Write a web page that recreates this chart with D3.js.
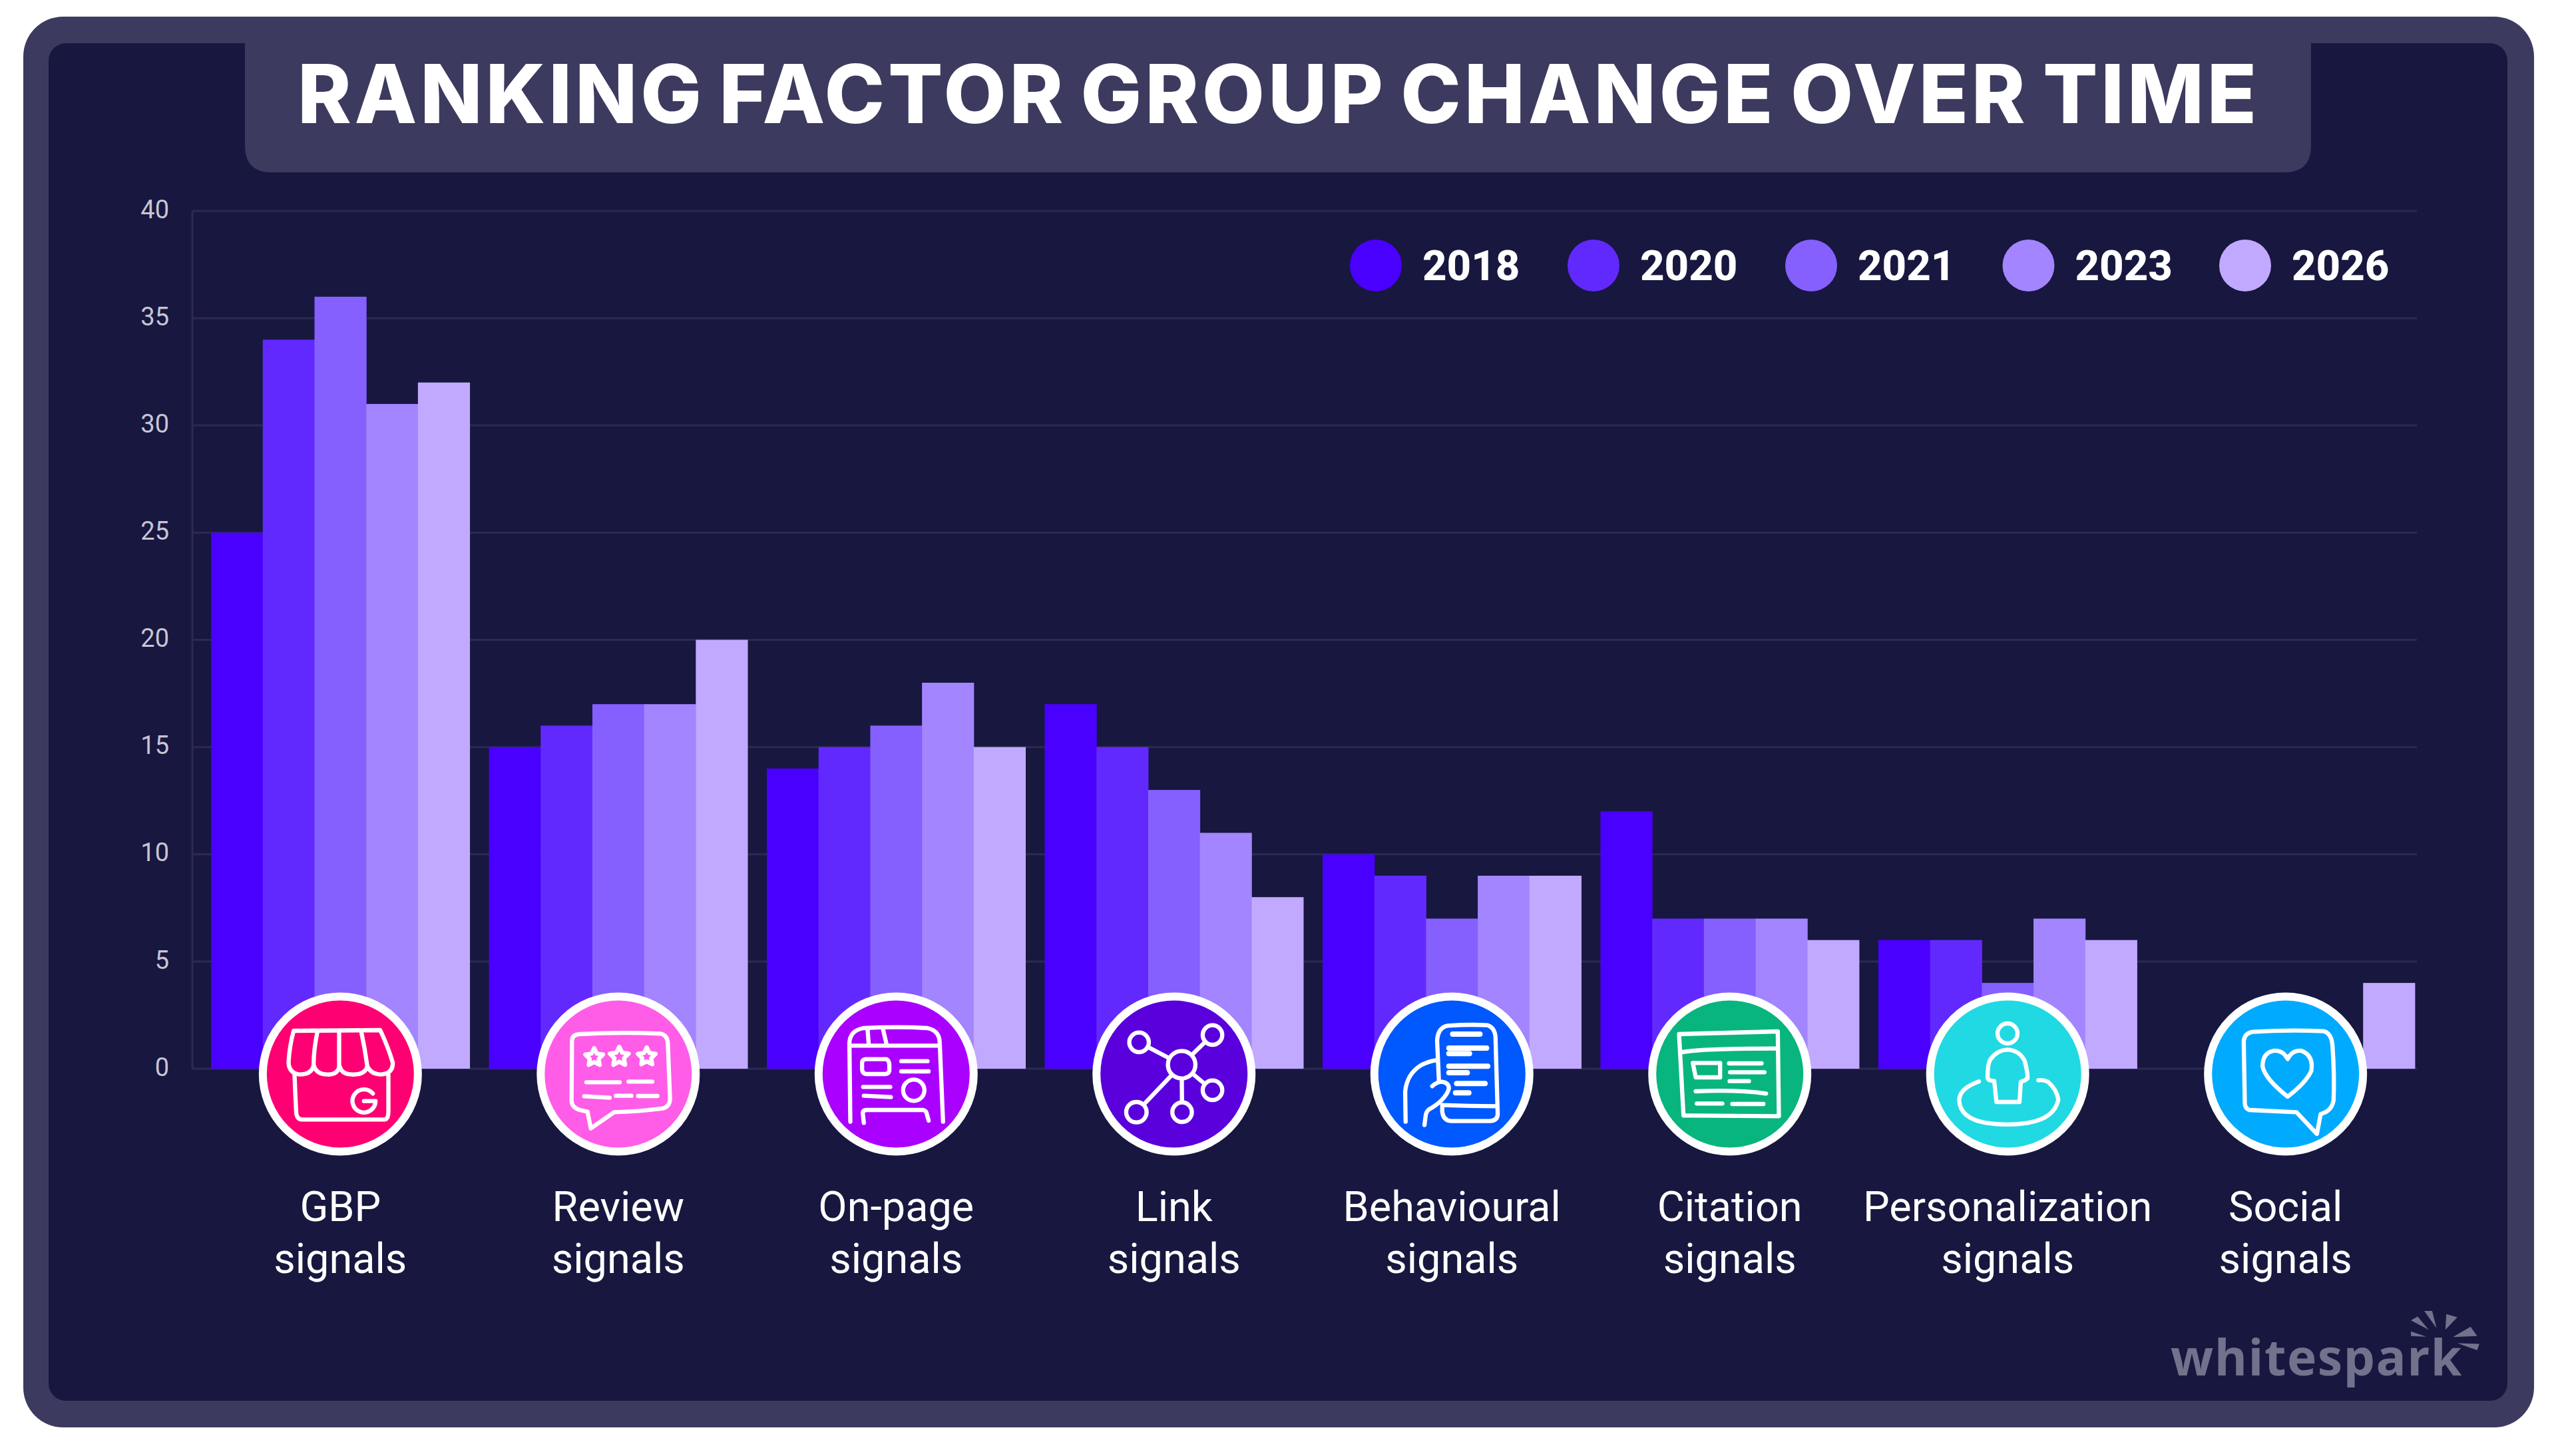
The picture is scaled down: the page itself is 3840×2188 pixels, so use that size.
<!DOCTYPE html>
<html>
<head>
<meta charset="utf-8">
<script src="https://cdn.jsdelivr.net/npm/d3@7"></script>
<style>
    html, body { margin: 0; padding: 0; background: #fff; }
    svg { display: block; }
</style>
</head>
<body>
<div id="chart"></div>
<script>
const categories = ['GBP', 'Review', 'On-page', 'Link', 'Behavioural', 'Citation', 'Personalization', 'Social'];
const years = ['2018', '2020', '2021', '2023', '2026'];
const values2018 = [25, 15, 14, 17, 10, 12, 6, 0];
const values2020 = [34, 16, 15, 15, 9, 7, 6, 0];
const values2021 = [36, 17, 16, 13, 7, 7, 4, 0];
const values2023 = [31, 17, 18, 11, 9, 7, 7, 0];
const values2026 = [32, 20, 15, 8, 9, 6, 6, 4];
const series = [values2018, values2020, values2021, values2023, values2026];
const yTicks = [0, 5, 10, 15, 20, 25, 30, 35, 40];
const yearColors = ['#4a00ff', '#6229ff', '#8560ff', '#a285ff', '#c1a9ff'];
const iconColors = ['#ff0072', '#ff5ce8', '#aa00ff', '#5a00dd', '#0058ff', '#09b57e', '#20d9e3', '#00aaff'];

const width = 3840;
const height = 2188;
const frameColor = '#3c3a5e';
const panelColor = '#17173f';
const gridColor = '#2c2a52';

const svg = d3.select('#chart').append('svg')
    .attr('width', width)
    .attr('height', height);

// frame, panel and title tab
svg.append('rect').attr('x', 35).attr('y', 25).attr('width', 3772).attr('height', 2120).attr('rx', 60).attr('fill', frameColor);
svg.append('rect').attr('x', 73).attr('y', 65).attr('width', 3694).attr('height', 2040).attr('rx', 26).attr('fill', panelColor);
svg.append('path')
    .attr('d', 'M368 60 V219 Q368 259 408 259 H3432 Q3472 259 3472 219 V60 Z')
    .attr('fill', frameColor);
svg.append('text')
    .attr('x', 1921).attr('y', 185)
    .attr('text-anchor', 'middle')
    .attr('font-family', 'Inter')
    .attr('font-weight', 800)
    .attr('font-size', 122)
    .attr('letter-spacing', 4.8)
    .attr('word-spacing', -10)
    .attr('fill', '#fff')
    .text('RANKING FACTOR GROUP CHANGE OVER TIME');

const y = d3.scaleLinear().domain([0, 40]).range([1606, 317]);
const x = d3.scaleBand().domain(categories).range([302.5, 3642.5]).paddingInner(0.0695).paddingOuter(0.035);
const xYear = d3.scaleBand().domain(years).range([0, x.bandwidth()]);

// gridlines + left axis line
svg.append('g').selectAll('line').data(yTicks).enter().append('line')
    .attr('x1', 289).attr('x2', 3631)
    .attr('y1', d => y(d)).attr('y2', d => y(d))
    .attr('stroke', gridColor).attr('stroke-width', 3);
svg.append('line')
    .attr('x1', 289).attr('x2', 289).attr('y1', y(40)).attr('y2', y(0))
    .attr('stroke', gridColor).attr('stroke-width', 3);

const yAxis = svg.append('g')
    .attr('transform', 'translate(289,-2)')
    .call(d3.axisLeft(y).tickValues(yTicks).tickSize(0).tickPadding(35));
yAxis.select('.domain').remove();
yAxis.selectAll('text')
    .attr('font-family', 'Roboto')
    .attr('font-size', 38)
    .attr('fill', '#c6c5d6');

// bars
years.forEach((year, i) => {
    svg.append('g').selectAll('rect').data(series[i]).enter().append('rect')
        .attr('x', (d, j) => x(categories[j]) + xYear(year))
        .attr('y', d => y(d))
        .attr('width', xYear.bandwidth() + 0.5)
        .attr('height', d => y(0) - y(d))
        .attr('fill', yearColors[i]);
});

// legend
const legendX = [2067, 2394, 2721, 3047.5, 3373];
const legend = svg.append('g').selectAll('g').data(years).enter().append('g')
    .attr('transform', (d, i) => `translate(${legendX[i]},399)`);
legend.append('circle').attr('r', 39).attr('fill', (d, i) => yearColors[i]);
legend.append('text')
    .attr('x', 70).attr('y', 22)
    .attr('font-family', 'Roboto')
    .attr('font-weight', 800)
    .attr('font-size', 63.5)
    .attr('fill', '#fff')
    .text(d => d);

// icon drawings, in a 780 x 780 box centred on the badge
const starPath = (cx, cy, r) => {
    const pts = d3.range(10).map(k => {
        const a = -Math.PI / 2 + k * Math.PI / 5;
        const rr = k % 2 === 0 ? r : r * 0.5;
        return [cx + rr * Math.cos(a), cy + rr * Math.sin(a)];
    });
    return 'M' + pts.map(p => p.join(' ')).join('L') + 'Z';
};
const icons = [
    {
        paths: [
            'M178 195 L568 192 Q605 270 625 340 Q625 390 570 392 Q525 390 510 355 Q500 395 440 392 Q395 392 385 355 Q375 395 330 392 Q280 392 268 350 Q260 392 205 392 Q155 385 155 335 Q160 260 178 195 Z',
            'M285 200 Q268 280 268 350', 'M383 200 V355', 'M483 200 Q500 280 510 355',
            'M182 395 Q185 480 190 570 Q195 595 215 595 L590 595 Q605 590 605 560 L605 395',
            'M535 478 A52 52 0 1 0 547 512 L495 512'
        ]
    },
    {
        paths: [
            'M180 240 Q180 212 215 210 Q400 200 580 208 Q610 215 612 250 L622 500 Q622 535 590 545 Q470 560 370 562 L265 635 L250 560 L215 552 Q178 540 178 510 Z',
            starPath(280, 315, 42), starPath(393, 312, 45), starPath(517, 312, 42),
            'M245 427 H395', 'M435 424 H542', 'M235 490 L350 497', 'M378 488 H448', 'M478 489 H565'
        ]
    },
    {
        paths: [
            'M182 605 L178 250 Q180 195 240 183 Q400 175 530 183 Q585 195 585 250 L600 605',
            'M180 262 H585', 'M260 190 L265 255', 'M330 190 L345 255',
            'M250 323 H345 Q358 330 358 350 V375 Q355 390 340 390 H255 Q238 390 235 370 V340 Q235 325 250 323 Z',
            'M412 332 H530', 'M412 378 H535', 'M240 448 H362', 'M243 488 L365 494',
            'M243 610 L238 565 Q240 552 255 552 H510 Q525 555 527 570 L535 600'
        ],
        circles: [[468, 463, 48]]
    },
    {
        paths: [
            'M423 348 L231 247', 'M423 348 L562 214', 'M423 348 L562 463', 'M423 348 L425 562', 'M423 348 L219 562'
        ],
        circles: [[423, 348, 62], [231, 247, 44], [562, 214, 44], [562, 463, 44], [425, 562, 44], [219, 562, 46]]
    },
    {
        paths: [
            'M330 420 L322 240 Q325 180 370 172 Q470 165 550 170 Q580 180 585 220 L595 570 Q595 600 560 602 L385 602 Q350 600 345 560 L345 540',
            'M345 530 Q470 535 590 535',
            'M180 605 L178 470 Q185 390 250 350 Q285 332 315 328',
            'M300 445 Q320 425 345 425 Q375 430 375 455 Q370 480 340 510 Q320 530 285 550 Q272 560 270 580 L265 620'
        ],
        thick: ['M375 273 H545', 'M375 298 H468', 'M375 355 H550', 'M375 384 H458', 'M410 433 H538', 'M405 475 H465', 'M392 210 H515']
    },
    {
        paths: [
            'M160 210 L605 198 L610 580 L180 577 Z',
            'M170 292 Q260 275 600 275',
            'M222 340 H345 V405 H235 Z',
            'M385 342 H532', 'M390 382 H545', 'M388 422 H475', 'M235 468 Q420 460 552 478', 'M240 523 H355', 'M400 525 H540'
        ]
    },
    {
        paths: [
            'M338 516 L328 421 Q298 420 298 405 Q298 345 310 325 Q340 282 388 280 Q440 282 465 330 Q480 385 478 410 Q465 422 448 424 L442 516 Z',
            'M259 424 Q170 455 170 510 Q175 590 290 610 Q390 625 480 610 Q600 590 617 505 Q610 460 570 425 Q550 415 527 418'
        ],
        circles: [[388, 207, 45]]
    },
    {
        paths: [
            'M200 240 Q205 205 240 200 Q400 190 560 197 Q595 205 600 260 Q610 400 605 510 Q595 560 547 570 L530 660 L438 562 L225 552 Q205 545 205 520 Z',
            'M398 322 Q375 280 335 285 Q285 295 285 355 Q295 410 398 492 Q480 430 505 375 Q515 305 460 285 Q420 280 398 322 Z'
        ]
    }
];

// category badges
const badge = svg.append('g').selectAll('g').data(categories).enter().append('g')
    .attr('transform', d => `translate(${x(d) + x.bandwidth() / 2},1614)`);
badge.append('circle')
    .attr('r', 116.5)
    .attr('fill', (d, i) => iconColors[i])
    .attr('stroke', '#fff')
    .attr('stroke-width', 12);

badge.each(function (d, i) {
    const g = d3.select(this).append('g')
        .attr('transform', 'translate(-129.5,-130) scale(0.3333)')
        .attr('fill', 'none')
        .attr('stroke', '#fff')
        .attr('stroke-width', 19)
        .attr('stroke-linecap', 'round')
        .attr('stroke-linejoin', 'round');
    icons[i].paths.forEach(p => g.append('path').attr('d', p));
    (icons[i].thick || []).forEach(p => g.append('path').attr('d', p).attr('stroke-width', 24));
    (icons[i].circles || []).forEach(c => {
        g.append('circle').attr('cx', c[0]).attr('cy', c[1]).attr('r', c[2]).attr('fill', iconColors[i]);
    });
});

// category labels
const labels = svg.append('g').selectAll('text').data(categories).enter().append('text')
    .attr('text-anchor', 'middle')
    .attr('font-family', 'Roboto')
    .attr('font-size', 63)
    .attr('fill', '#fff');
labels.append('tspan').attr('x', d => x(d) + x.bandwidth() / 2).attr('y', 1835).text(d => d);
labels.append('tspan').attr('x', d => x(d) + x.bandwidth() / 2).attr('y', 1913).text('signals');

// whitespark logo
const logoColor = '#72728c';
svg.append('text')
    .attr('x', 3261).attr('y', 2067)
    .attr('font-family', 'Open Sans')
    .attr('font-weight', 700)
    .attr('font-size', 75)
    .attr('letter-spacing', 1.5)
    .attr('fill', logoColor)
    .text('whitespark');
const sparks = [
    'M1270 1105 L1288 1105 L1298 1160 Z',
    'M1320 1115 L1345 1125 L1318 1165 Z',
    'M1375 1155 L1390 1185 L1335 1188 Z',
    'M1345 1208 L1395 1210 L1390 1230 Z',
    'M1240 1135 L1255 1122 L1280 1165 Z',
    'M1240 1170 L1240 1185 L1275 1187 Z'
];
svg.append('g')
    .attr('transform', 'translate(2800,1450) scale(0.663,0.4707)')
    .selectAll('path').data(sparks).enter().append('path')
    .attr('d', d => d)
    .attr('fill', logoColor);
</script>
</body>
</html>
